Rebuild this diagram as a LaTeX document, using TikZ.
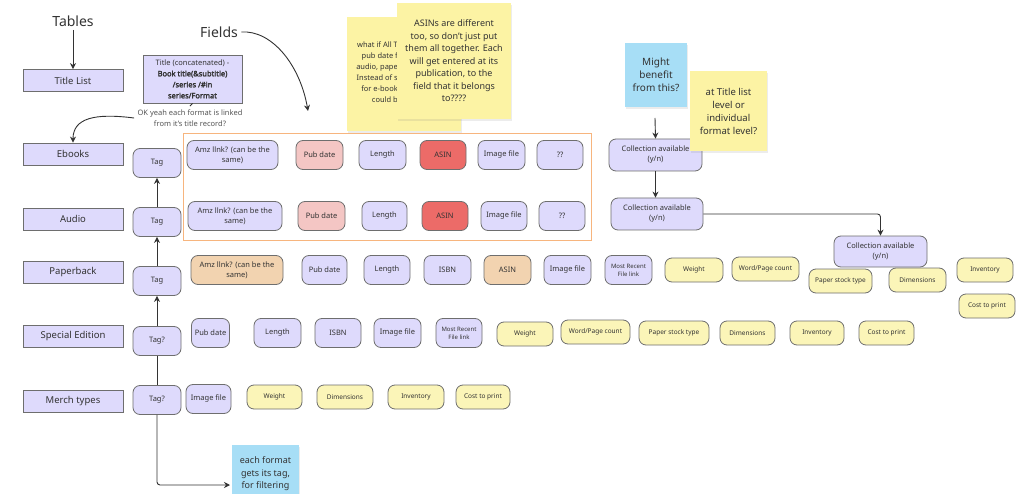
\documentclass[tikz,border=0pt]{standalone}
\usepackage{fontspec}
\setmainfont{Noto Sans}
\newfontfamily\thick{Noto Sans}[FakeBold=2.5]
\usepackage{xcolor}
\usepackage{tikz}
\usetikzlibrary{arrows.meta,shadows}
\definecolor{lav}{HTML}{DEDAFC}
\definecolor{edge}{HTML}{6E6E6E}
\definecolor{pinkfld}{HTML}{F4C6C4}
\definecolor{asinred}{HTML}{EC6B68}
\definecolor{tanfld}{HTML}{F2D3B0}
\definecolor{pale}{HTML}{FBF5B8}
\definecolor{sticky}{HTML}{FCF3A4}
\definecolor{skyb}{HTML}{A7DEF6}
\definecolor{frame}{HTML}{F7B57E}
\definecolor{ink}{HTML}{333333}
\definecolor{muted}{HTML}{555555}
\newcommand{\fsz}[2]{\fontsize{#1}{#2}\selectfont}
\tikzset{
  tbl/.style={draw=edge, fill=lav, line width=0.8pt, minimum width=100pt, minimum height=22pt, text=ink, font=\fsz{9.5}{11}},
  tagbox/.style={draw=edge, fill=lav, line width=0.8pt, rounded corners=7pt, minimum width=48pt, minimum height=29pt, text=ink, font=\fsz{7.5}{9}},
  fld/.style={draw=edge, fill=lav, line width=0.8pt, rounded corners=7pt, minimum height=29pt, align=center, inner sep=1pt, text=ink, font=\fsz{7.5}{10}},
  tiny/.style={font=\fsz{6}{8}},
  yel/.style={fld, fill=pale, minimum height=24pt, font=\fsz{6.5}{8}},
  note/.style={fill=sticky, align=center, text=ink, inner sep=2pt, drop shadow={shadow xshift=1pt, shadow yshift=-2pt, opacity=0.15}},
  bnote/.style={note, fill=skyb},
  lab/.style={text=ink, font=\fsz{14}{16}},
  arr/.style={draw=ink, line width=0.9pt, -{Stealth[length=6pt,width=6pt]}},
  ln/.style={draw=ink, line width=0.9pt}
}

\begin{document}
\begin{tikzpicture}[x=1pt, y=-1pt]
  \useasboundingbox[fill=white] (0,0) rectangle (1024,494);

  % headings
  \node[lab] (tbls) at (73,21) {Tables};
  \node[lab] (flds) at (219,32) {Fields};
  \coordinate (fieldsEnd) at (308,111);
  \draw[arr] (flds.east) .. controls (272,30) and (300,65) .. (fieldsEnd);

  % tables
  \node[tbl] (ttl) at (73,80.5) {Title List};
  \node[tbl] (ebk) at (73,154) {Ebooks};
  \node[tbl] (aud) at (73,219) {Audio};
  \node[tbl] (pap) at (73,272.5) {Paperback};
  \node[tbl] (spe) at (73,336.5) {Special Edition};
  \node[tbl] (mer) at (73,401.5) {Merch types};
  \draw[arr] (tbls.south) -- (ttl.north);

  \node[draw=edge, fill=lav, line width=0.8pt, minimum width=99pt, minimum height=48pt, align=center, inner sep=1pt, text=ink, font=\fsz{7.5}{11}] (tcon) at (192.5,79)
    {Title (concatenated) -\\{\thick Book title(\&subtitle)}\\{\thick /series /\#in}\\{\thick series/Format}};
  \node[align=center, text=muted, font=\fsz{7.5}{11}] (okt) at (190,118) {OK yeah each format is linked\\from it's title record?};
  \draw[ln] (tcon.south) -- (okt.north);
  \draw[arr] (okt.west) .. controls (95,113) and (73,118) .. (ebk.north);

  % tags
  \node[tagbox] (tE) at (157,163) {Tag};
  \node[tagbox] (tA) at (157,222) {Tag};
  \node[tagbox] (tP) at (157,281) {Tag};
  \node[tagbox] (tS) at (157,341) {Tag?};
  \node[tagbox] (tM) at (157,400) {Tag?};
  \draw[arr] (tA.north) -- (tE.south);
  \draw[arr] (tP.north) -- (tA.south);
  \draw[arr] (tS.north) -- (tP.south);
  \draw[ln] (tM.north) -- (tS.south);

  \node[bnote, minimum width=67pt, minimum height=58pt, font=\fsz{9}{12.5}] (each) at (265.5,474) {each format\\gets its tag,\\for filtering};
  \coordinate (noteIn) at (230,485);
  \draw[arr, rounded corners=3pt] (tM.south) |- (noteIn);

  % ebook + audio frame
  \draw[frame, line width=0.9pt] (183,133) rectangle (591,240);

  \node[fld, minimum width=91pt] (eAmz) at (232.5,155) {Amz llnk? (can be the\\same)};
  \node[fld, fill=pinkfld, minimum width=47pt] (ePub) at (319.5,155) {Pub date};
  \node[fld, minimum width=47pt] (eLen) at (382.5,155) {Length};
  \node[fld, fill=asinred, minimum width=46pt] (eAsin) at (443,155) {ASIN};
  \node[fld, minimum width=47pt] (eImg) at (501.5,155) {Image file};
  \node[fld, minimum width=46pt] (eQq) at (560,155) {??};

  \node[fld, minimum width=94pt] (aAmz) at (235,216) {Amz llnk? (can be the\\same)};
  \node[fld, fill=pinkfld, minimum width=47pt] (aPub) at (321.5,216) {Pub date};
  \node[fld, minimum width=45pt] (aLen) at (384.5,216) {Length};
  \node[fld, fill=asinred, minimum width=46pt] (aAsin) at (445,216) {ASIN};
  \node[fld, minimum width=46pt] (aImg) at (504,216) {Image file};
  \node[fld, minimum width=46pt] (aQq) at (562,216) {??};

  % paperback
  \node[fld, fill=tanfld, minimum width=92pt] (pAmz) at (237,270) {Amz llnk? (can be the\\same)};
  \node[fld, minimum width=45pt] (pPub) at (324.5,270) {Pub date};
  \node[fld, minimum width=46pt] (pLen) at (387,270) {Length};
  \node[fld, minimum width=47pt] (pIsbn) at (447.5,270) {ISBN};
  \node[fld, fill=tanfld, minimum width=47pt] (pAsin) at (507.5,270) {ASIN};
  \node[fld, minimum width=47pt] (pImg) at (567.5,270) {Image file};
  \node[fld, tiny, minimum width=47pt] (pRec) at (628.5,270) {Most Recent\\File link};
  \node[yel, minimum width=58pt] (pWgt) at (694,270) {Weight};
  \node[yel, minimum width=67pt] (pWord) at (765.5,269) {Word/Page count};
  \node[yel, minimum width=63pt] (pPaper) at (840.5,281) {Paper stock type};
  \node[yel, minimum width=57pt] (pDim) at (917.5,280) {Dimensions};
  \node[yel, minimum width=56pt] (pInv) at (985,270) {Inventory};
  \node[yel, minimum width=56pt] (pCost) at (987,306) {Cost to print};

  % special edition
  \node[fld, minimum width=38pt] (sPub) at (210.5,333) {Pub date};
  \node[fld, minimum width=47pt] (sLen) at (277.5,333) {Length};
  \node[fld, minimum width=46pt] (sIsbn) at (338,333) {ISBN};
  \node[fld, minimum width=47pt] (sImg) at (397.5,333) {Image file};
  \node[fld, tiny, minimum width=46pt] (sRec) at (459,333) {Most Recent\\File link};
  \node[yel, minimum width=56pt] (sWgt) at (525,334) {Weight};
  \node[yel, minimum width=69pt] (sWord) at (595.5,332) {Word/Page count};
  \node[yel, minimum width=70pt] (sPaper) at (674,333) {Paper stock type};
  \node[yel, minimum width=55pt] (sDim) at (747.5,333) {Dimensions};
  \node[yel, minimum width=54pt] (sInv) at (817,333) {Inventory};
  \node[yel, minimum width=55pt] (sCost) at (886.5,333) {Cost to print};

  % merch
  \node[fld, minimum width=45pt] (mImg) at (208.5,399) {Image file};
  \node[yel, minimum width=55pt] (mWgt) at (274.5,397) {Weight};
  \node[yel, minimum width=56pt] (mDim) at (345,397) {Dimensions};
  \node[yel, minimum width=56pt] (mInv) at (416,397) {Inventory};
  \node[yel, minimum width=54pt] (mCost) at (483,397) {Cost to print};

  % collections
  \node[fld, minimum width=93pt, minimum height=32pt] (c1) at (655.5,155) {Collection available\\(y/n)};
  \node[fld, minimum width=92pt, minimum height=32pt] (c2) at (657,214) {Collection available\\(y/n)};
  \node[fld, minimum width=93pt, minimum height=31pt] (c3) at (880.5,251.5) {Collection available\\(y/n)};
  \draw[arr] (c1.south) -- (c1.south |- c2.north);
  \draw[arr, rounded corners=3pt] (c2.east) -| (c3.north);

  \node[bnote, minimum width=62pt, minimum height=64pt, font=\fsz{10}{13}] (might) at (656,75) {Might\\benefit\\from this?};
  \coordinate (mightOut) at (655,118);
  \draw[arr] (mightOut) -- (c1.north);
  \node[note, minimum width=77pt, minimum height=80pt, font=\fsz{9.5}{13}] (lvl) at (728.5,111) {at Title list\\level or\\individual\\format level?};

  % sticky notes over the frame
  \node[note, minimum width=114pt, minimum height=114pt] (whatif) at (404,74) {};
  \node[anchor=north east, align=right, text=ink, inner sep=0pt, font=\fsz{7.5}{11}] (whatiftxt) at (398,42)
    {what if All T\\pub date f\\audio, pape\\Instead of s\\for e-book\\could b};
  \node[note, minimum width=114pt, minimum height=116pt, font=\fsz{9}{12.5}] (asins) at (454,61)
    {ASINs are different\\too, so don't just put\\them all together. Each\\will get entered at its\\publication, to the\\field that it belongs\\to????};
\end{tikzpicture}
\end{document}
